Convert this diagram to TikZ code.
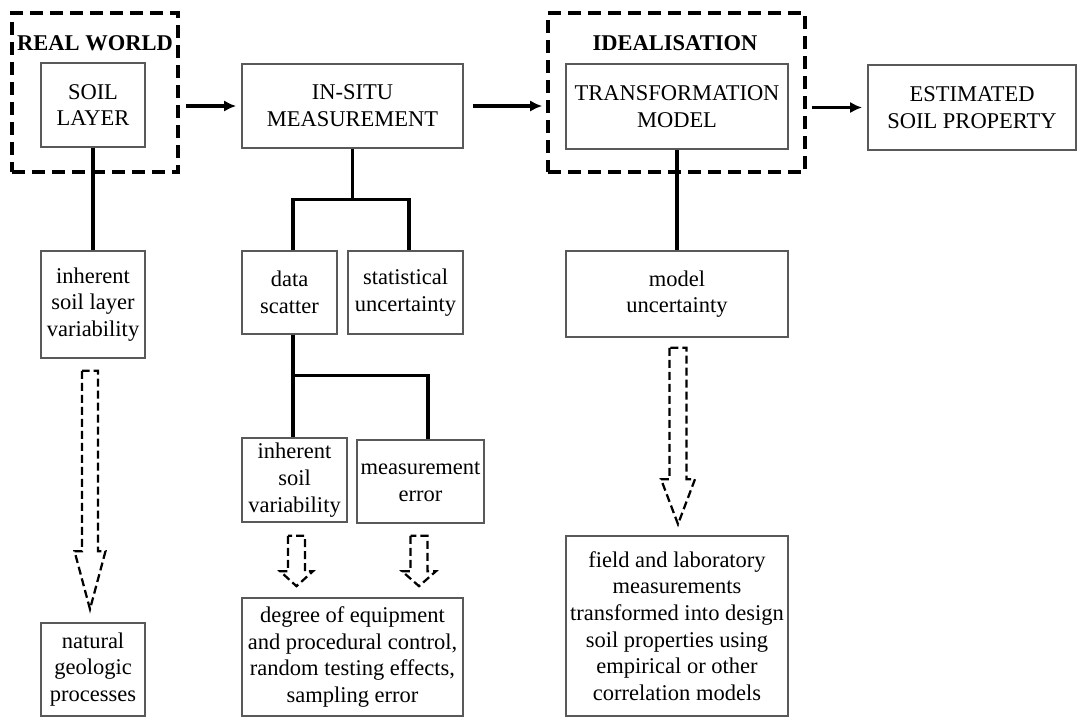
\documentclass[tikz,border=0pt]{standalone}
\usepackage{fontspec}
\setmainfont{Liberation Serif}
\usepackage{tikz}
\usetikzlibrary{calc}
\usetikzlibrary{arrows,arrows.meta}
\tikzset{>=latex}
\tikzstyle{mybigarr}=[-{Latex[length=3mm,width=2.8mm]},line width=2.3pt]
\newcommand\hollowArrow[5]{
	\draw[hollow] ($(#1)+(-#3,0)$) -- ($(#2)+(-#3,-#5)$) -- ($(#2)+(-#4,-#5)$) -- (#2) -- ($(#2)+(#4,-#5)$) -- ($(#2)+(#3,-#5)$) -- ($(#1)+(#3,0)$) -- cycle;
}

\begin{document}
\begin{tikzpicture}[x=0.25mm,y=-0.25mm,
		box/.style={draw=black!65,line width=1.2pt,align=center,inner sep=0pt,font=\fontsize{16}{19}\selectfont},
		dashframe/.style={draw,line width=2.5pt,dash pattern=on 3.2mm off 1.8mm},
		heading/.style={font=\fontsize{16}{19}\selectfont\bfseries},
		link/.style={line width=2.3pt},
		hollow/.style={line width=1.6pt,dash pattern=on 2mm off 1mm,line join=miter}]
		
		\useasboundingbox (0,0) rectangle (1078,718);
		
		%% REAL WORLD
		\node[dashframe,minimum width=41.5mm,minimum height=39.75mm] (RealWorld) at (95,92.5) {};
		\node[heading] (RealWorldTitle) at (95,43) {REAL WORLD};
		\node[box,minimum width=26mm,minimum height=21mm] (SoilLayer) at (93,105) {SOIL\\LAYER};
		
		%% IDEALISATION
		\node[dashframe,minimum width=64.25mm,minimum height=39.75mm] (Idealisation) at (676.5,92.5) {};
		\node[heading] (IdealTitle) at (675,43) {IDEALISATION};
		\node[box,minimum width=55.5mm,minimum height=21.25mm] (TransModel) at (677,106.5) {TRANSFORMATION\\MODEL};
		
		%% TOP ROW
		\node[box,minimum width=55.25mm,minimum height=21mm] (InSitu) at (352.5,106) {IN-SITU\\MEASUREMENT};
		\node[box,minimum width=52mm,minimum height=21.25mm] (EstSoil) at (972,107.5) {ESTIMATED\\SOIL PROPERTY};
		
		\draw[mybigarr,shorten <=1.5mm,shorten >=1.25mm] (RealWorld.east |- InSitu.west) -- (InSitu.west);
		\draw[mybigarr,shorten <=2.25mm,shorten >=1mm] (InSitu.east) -- (Idealisation.west |- InSitu.east);
		\draw[mybigarr,shorten <=1.25mm,shorten >=1.25mm] (Idealisation.east |- EstSoil.west) -- (EstSoil.west);
		
		%% SOIL LAYER BRANCH
		\node[box,minimum width=26mm,minimum height=26.75mm] (InhLayer) at (93,304.5) {inherent\\soil layer\\variability};
		\node[box,minimum width=26mm,minimum height=23.25mm] (NatGeo) at (93,669.5) {natural\\geologic\\processes};
		
		\draw[link] (SoilLayer.south) -- (InhLayer.north);
		
		\coordinate (HA1Top) at ($(InhLayer.south)+(-3,12)$);
		\coordinate (HA1Tip) at ($(NatGeo.north)+(-3,-13)$);
		\hollowArrow{HA1Top}{HA1Tip}{8}{15.5}{58}
		
		%% MEASUREMENT BRANCH
		\node[box,minimum width=23.75mm,minimum height=20.75mm] (DataScatter) at (289.5,292.5) {data\\scatter};
		\node[box,minimum width=28.75mm,minimum height=20.75mm] (StatUnc) at (405.5,292.5) {statistical\\uncertainty};
		\node[box,minimum width=26.25mm,minimum height=21mm] (InhSoil) at (294.5,480) {inherent\\soil\\variability};
		\node[box,minimum width=31.75mm,minimum height=20.75mm] (MeasErr) at (420.5,481.5) {measurement\\error};
		\node[box,minimum width=55.25mm,minimum height=29.5mm] (DegreeCtrl) at (352.5,657) {degree of equipment\\and procedural control,\\random testing effects,\\sampling error};
		
		\coordinate (SplitA) at ($(InSitu.south)+(0,51)$);
		\coordinate (SplitB) at ($(DataScatter.south)+(3.5,41)$);
		
		\draw[link] (InSitu.south) -- (SplitA);
		\draw[link] (SplitB |- DataScatter.north) |- (SplitA) -| ([xshift=0.9mm]StatUnc.north);
		\draw[link] (SplitB |- DataScatter.south) -- (SplitB |- InhSoil.north);
		\draw[link] (SplitB) -| ([xshift=1.9mm]MeasErr.north);
		
		\coordinate (HA2Top) at ($(InhSoil.south)+(2,13)$);
		\coordinate (HA2Tip) at ($(InhSoil.south |- DegreeCtrl.north)+(2,-11)$);
		\hollowArrow{HA2Top}{HA2Tip}{8.5}{16.5}{15}
		
		\coordinate (HA3Top) at ($(MeasErr.south)+(-1.5,12)$);
		\coordinate (HA3Tip) at ($(MeasErr.south |- DegreeCtrl.north)+(-1.5,-11)$);
		\hollowArrow{HA3Top}{HA3Tip}{8.5}{17}{15}
		
		%% MODEL BRANCH
		\node[box,minimum width=55.5mm,minimum height=21.5mm] (ModelUnc) at (677,294) {model\\uncertainty};
		\node[box,minimum width=55.5mm,minimum height=45mm] (FieldLab) at (677,626) {field and laboratory\\measurements\\transformed into design\\soil properties using\\empirical or other\\correlation models};
		
		\draw[link] (TransModel.south) -- (ModelUnc.north);
		
		\coordinate (HA4Top) at ($(ModelUnc.south)+(1,10)$);
		\coordinate (HA4Tip) at ($(FieldLab.north)+(1,-11)$);
		\hollowArrow{HA4Top}{HA4Tip}{8.5}{17}{45}
		
	\end{tikzpicture}
\end{document}
